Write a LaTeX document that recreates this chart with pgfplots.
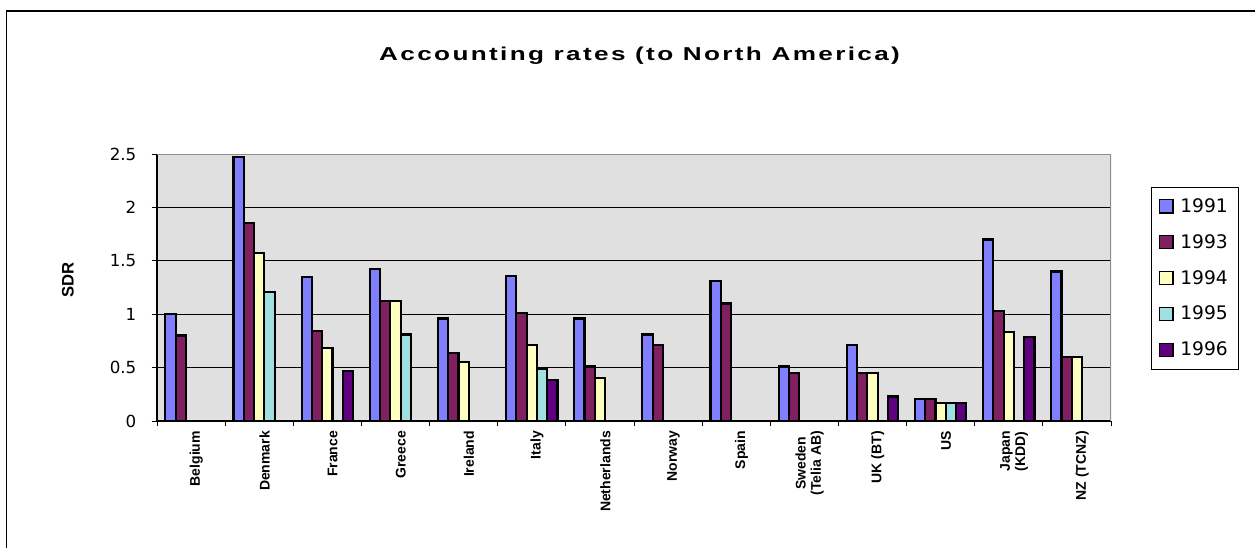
\documentclass[border=0pt]{standalone}
\usepackage{fontspec}
\setmainfont{Liberation Sans}
\newfontfamily\dejavu{DejaVu Sans}
\newfontfamily\titlefont[LetterSpace=9]{Liberation Sans Bold}
\usepackage{pgfplots}
\usepackage{pgfplotstable}
\pgfplotsset{compat=1.18}

\definecolor{c91}{HTML}{8080FF}
\definecolor{c93}{HTML}{802060}
\definecolor{c94}{HTML}{FFFFC0}
\definecolor{c95}{HTML}{A0E0E0}
\definecolor{c96}{HTML}{600080}
\definecolor{plotbg}{HTML}{E0E0E0}
\definecolor{edge}{HTML}{8C8C8C}

% accounting rates in SDR, one row per country (nan = no bar)
\pgfplotstableread{
i  y1991 y1993 y1994 y1995 y1996
0  1.00  0.80  nan   nan   nan
1  2.47  1.85  1.57  1.21  nan
2  1.35  0.84  0.68  nan   0.47
3  1.42  1.12  1.12  0.81  nan
4  0.96  0.64  0.55  nan   nan
5  1.36  1.01  0.71  0.49  0.38
6  0.96  0.51  0.40  nan   nan
7  0.81  0.71  nan   nan   nan
8  1.31  1.10  nan   nan   nan
9  0.51  0.45  nan   nan   nan
10 0.71  0.45  0.45  nan   0.23
11 0.21  0.21  0.17  0.17  0.17
12 1.70  1.03  0.83  nan   0.79
13 1.40  0.60  0.60  nan   nan
}\rates

\begin{document}
\begin{tikzpicture}
\useasboundingbox (-117.75pt,-94.5pt) rectangle (823.5pt,315.75pt);
\draw[line width=1.2pt] (-112.9pt,-100pt) -- (-112.9pt,307.5pt) -- (830pt,307.5pt);
\begin{axis}[
    at={(0pt,0pt)}, anchor=south west,
    scale only axis, width=715.5pt, height=200.25pt,
    ybar, bar width=0.151,
    xmin=-0.5, xmax=13.5, ymin=0, ymax=2.5,
    axis x line*=bottom, axis y line*=left,
    axis line style={black, line width=0.8pt, -},
    axis background/.style={fill=plotbg},
    xtick={-0.5,0.5,...,13.5},
    x tick label as interval,
    xticklabels={Belgium,Denmark,France,Greece,Ireland,Italy,Netherlands,Norway,Spain,
        {Sweden\\(Telia AB)},UK (BT),US,{Japan\\(KDD)},NZ (TCNZ)},
    x tick label style={rotate=90, anchor=east, align=center, yshift=-4pt,
        font=\bfseries\fontsize{10.5}{11.5}\selectfont},
    ytick={0,0.5,1,1.5,2,2.5},
    yticklabels={0,0.5,1,1.5,2,2.5},
    y tick label style={xshift=-8pt, font=\dejavu\fontsize{12.5}{13}\selectfont},
    tick align=outside, major tick length=4pt,
    tick style={black, line width=0.6pt},
    ymajorgrids, grid style={black, line width=0.6pt},
    legend cell align=left,
    legend style={at={(1.0416,0.8775)}, anchor=north west, draw=black,
        line width=0.6pt, fill=white, font=\dejavu\fontsize{14}{16}\selectfont,
        row sep=11pt, inner xsep=6pt, inner ysep=6.5pt,
        /tikz/every odd column/.append style={column sep=3pt}},
    legend image code/.code={\draw[#1, line width=0.9pt] (0pt,-5pt) rectangle (10pt,5pt);},
    every axis plot/.append style={draw=black, line width=1.6pt},
]
\addplot[fill=c91, bar shift=-0.302] table[x=i, y=y1991] {\rates};
\addplot[fill=c93, bar shift=-0.151] table[x=i, y=y1993] {\rates};
\addplot[fill=c94, bar shift=0] table[x=i, y=y1994] {\rates};
\addplot[fill=c95, bar shift=0.151] table[x=i, y=y1995] {\rates};
\addplot[fill=c96, bar shift=0.302] table[x=i, y=y1996] {\rates};
\legend{1991,1993,1994,1995,1996}
\draw[edge, line width=1.5pt] (rel axis cs:0,1) -- (rel axis cs:1,1) -- (rel axis cs:1,0);
\end{axis}
\node[xscale=1.4, font=\titlefont\fontsize{14}{16}\selectfont] at (361.9pt,274.1pt)
    {Accounting rates (to North America)};
\node[font=\bfseries\fontsize{12.5}{14}\selectfont, rotate=90] at (-66.75pt,105.75pt) {SDR};
\end{tikzpicture}
\end{document}
